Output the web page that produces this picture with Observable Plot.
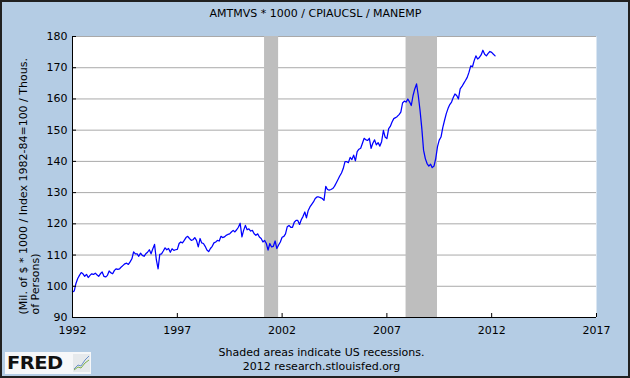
<!DOCTYPE html>
<html>
<head>
<meta charset="utf-8">
<script src="https://cdn.jsdelivr.net/npm/d3@7"></script>
<script src="https://cdn.jsdelivr.net/npm/@observablehq/plot@0.6"></script>
<style>
  html, body { margin: 0; padding: 0; background: #B4CCE4; }
  #wrap { position: relative; width: 630px; height: 378px; overflow: hidden; font-family: "DejaVu Sans", Verdana, sans-serif; }
  #wrap svg { display: block; }
  #border { position: absolute; left: 0; top: 0; width: 630px; height: 378px; box-sizing: border-box; border: 2px solid #202020; pointer-events: none; }
  #logo { position: absolute; left: 5px; top: 352px; width: 86px; height: 22px; background: #f6f7f9; }
  #logo span { position: absolute; left: 2px; top: 0px; font: 900 18px "DejaVu Sans", sans-serif; color: #111; transform: scaleX(1.08); transform-origin: left center; line-height: 22px; letter-spacing: -0.5px; }
  #logo svg { position: absolute; left: 68px; top: 2px; }
</style>
</head>
<body>
<div id="wrap">
  <div id="logo"><span>FRED</span>
    <svg width="17" height="18" viewBox="0 0 17 18"><rect x="0" y="0" width="17" height="18" fill="#e6e9ec"/><polyline points="1,15 5,11 8,12 12,6 16,2" fill="none" stroke="#6a8fc8" stroke-width="1"/><polyline points="1,16 5,13 8,14 12,9 16,6" fill="none" stroke="#7fb04a" stroke-width="1"/></svg>
  </div>
  <div id="border"></div>
</div>
<script>
// ---- data ----
const seriesStart = "1992-01-01"; // monthly observations
const values = [
  98.2, 98.5, 100.9, 102.5, 103.5, 104.4, 104.0, 103.2, 103.8, 102.8, 103.5, 104.0,
  103.8, 104.2, 103.7, 103.2, 104.0, 104.6, 103.2, 103.0, 103.5, 104.9, 104.3, 104.0,
  105.1, 105.6, 105.4, 105.6, 106.2, 106.7, 107.2, 107.4, 107.0, 107.8, 108.8, 111.0,
  110.4, 110.4, 109.6, 110.6, 109.9, 109.6, 110.4, 110.9, 111.7, 110.4, 112.0, 113.4,
  108.5, 105.6, 110.2, 110.4, 111.3, 112.3, 111.7, 112.1, 110.9, 112.0, 111.5, 111.7,
  111.8, 113.7, 114.2, 113.9, 114.7, 115.6, 116.0, 115.3, 114.7, 114.9, 115.6, 114.7,
  112.6, 115.3, 113.9, 113.7, 112.8, 111.6, 111.1, 112.1, 112.8, 113.9, 114.2, 114.7,
  114.5, 116.0, 115.6, 115.8, 116.3, 116.6, 116.8, 117.4, 117.9, 117.4, 118.1, 118.9,
  120.2, 115.8, 117.9, 119.5, 118.1, 118.4, 117.7, 117.9, 116.8, 116.3, 116.8, 115.8,
  115.3, 114.2, 114.7, 113.7, 111.6, 113.7, 112.6, 112.8, 114.5, 112.1, 113.2, 114.2,
  115.7, 116.0, 116.8, 119.1, 119.5, 118.9, 118.9, 120.5, 121.1, 121.1, 119.8, 121.3,
  122.4, 123.8, 121.9, 124.3, 125.4, 126.2, 127.0, 128.1, 128.6, 128.6, 128.4, 128.1,
  127.5, 132.0, 131.0, 130.8, 131.0, 131.3, 132.0, 133.1, 134.2, 135.3, 136.3, 137.7,
  139.9, 139.9, 139.6, 141.3, 140.6, 142.0, 140.2, 143.1, 143.9, 144.2, 145.8, 147.4,
  146.9, 146.7, 147.4, 144.2, 145.8, 146.9, 145.3, 146.0, 144.9, 146.3, 149.9, 147.8,
  147.3, 150.5, 151.2, 152.6, 153.7, 154.0, 154.4, 155.0, 155.8, 158.7, 159.3, 159.0,
  160.0, 159.0, 157.9, 161.1, 163.2, 164.8, 161.1, 156.3, 150.5, 143.6, 140.9, 139.3,
  138.5, 139.1, 138.0, 138.5, 140.9, 144.7, 146.8, 147.8, 150.8, 153.1, 155.3, 156.9,
  158.2, 159.0, 160.4, 161.6, 161.1, 160.0, 163.2, 164.0, 165.0, 165.9, 166.9, 168.5,
  170.6, 170.3, 172.2, 173.8, 172.8, 173.3, 174.1, 175.6, 174.3, 173.8, 174.6, 175.2,
  174.9, 174.3, 173.8
];
const recessionStarts = ["2001-03-01", "2007-12-01"];
const recessionEnds = ["2001-11-01", "2009-06-01"];
const yearTicks = [1992, 1997, 2002, 2007, 2012, 2017];
const valueTicks = [90, 100, 110, 120, 130, 140, 150, 160, 170, 180];
const titleText = "AMTMVS * 1000 / CPIAUCSL / MANEMP";
const yLabelLines = ["(Mil. of $ * 1000 / Index 1982-84=100 / Thous.", "of Persons)"];
const footerLines = ["Shaded areas indicate US recessions.", "2012 research.stlouisfed.org"];

// ---- build tables ----
const s0 = new Date(seriesStart);
const data = values.map((v, i) => ({
  date: new Date(Date.UTC(s0.getUTCFullYear(), s0.getUTCMonth() + i, 1)),
  value: v
}));
const recessions = recessionStarts.map((s, i) => ({ start: new Date(s), end: new Date(recessionEnds[i]) }));
const xTickDates = yearTicks.map(y => new Date(Date.UTC(y, 0, 1)));

const chart = Plot.plot({
  width: 630,
  height: 378,
  marginLeft: 72,
  marginRight: 34,
  marginTop: 36,
  marginBottom: 61,
  style: { background: "#B4CCE4", fontFamily: "DejaVu Sans, Verdana, sans-serif", fontSize: "11px", color: "#000" },
  x: { type: "utc", domain: [xTickDates[0], xTickDates[xTickDates.length - 1]], label: null },
  y: { domain: [valueTicks[0], valueTicks[valueTicks.length - 1]], label: null },
  marks: [
    Plot.frame({ fill: "white", stroke: "none" }),
    Plot.gridY(valueTicks.slice(1), { stroke: "#a9a9a9", strokeOpacity: 1 }),
    Plot.rect(recessions, { x1: "start", x2: "end", fill: "#bebebe" }),
    Plot.line(data, { x: "date", y: "value", stroke: "#0000ff", strokeWidth: 1.25 }),
    Plot.ruleX([xTickDates[0]], { stroke: "#000" }),
    Plot.ruleY([valueTicks[0]], { stroke: "#000" }),
    Plot.axisY(valueTicks, { tickSize: -4, tickPadding: 9, stroke: "#000", fill: "#000", fontSize: 11 }),
    Plot.axisX(xTickDates, { tickFormat: d3.utcFormat("%Y"), tickSize: -4, tickPadding: 13, stroke: "#000", fill: "#000", fontSize: 11 }),
    Plot.text([titleText], { frameAnchor: "top", dx: -19, dy: -20, lineAnchor: "bottom", fontSize: 11, fill: "#000" }),
    Plot.text([yLabelLines[0]], { frameAnchor: "bottom-left", rotate: -90, textAnchor: "start", lineAnchor: "bottom", dx: -46, dy: -3, fontSize: 11, fill: "#000" }),
    Plot.text([yLabelLines[1]], { frameAnchor: "bottom-left", rotate: -90, textAnchor: "start", lineAnchor: "bottom", dx: -34, dy: -3, fontSize: 11, fill: "#000" }),
    Plot.text([footerLines[0]], { frameAnchor: "bottom", dx: -13, dy: 38, lineAnchor: "bottom", fontSize: 11, fill: "#000" }),
    Plot.text([footerLines[1]], { frameAnchor: "bottom", dx: -13, dy: 52, lineAnchor: "bottom", fontSize: 11, fill: "#000" })
  ]
});
document.getElementById("wrap").prepend(chart);
</script>
</body>
</html>
